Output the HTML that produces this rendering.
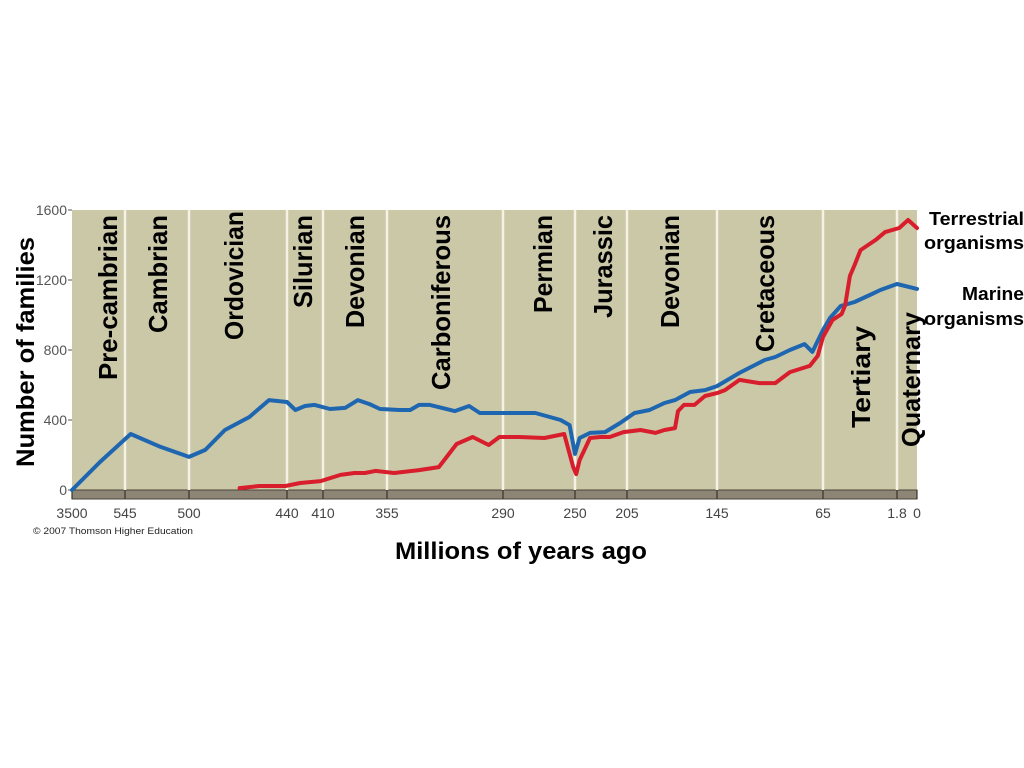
<!DOCTYPE html>
<html><head><meta charset="utf-8"><style>
html,body{margin:0;padding:0;background:#fff;}
svg{display:block;font-family:"Liberation Sans",sans-serif;}
</style></head><body>
<svg width="1024" height="768" viewBox="0 0 1024 768">
<g id="plot"></g>
</svg>
<script>
const tickAges=[3500,545,500,440,410,355,290,250,205,145,65,1.8,0];
const tickLabels=["3500","545","500","440","410","355","290","250","205","145","65","1.8","0"];
const yTicks=[0,400,800,1200,1600];
const marineAges=[3500,1939,541,520,500,490,478,463,451,440,433,425,417,404,391,380,370,361,348,342,337,331,317,309,303,290,272,258,253,250,246,237,224,211,200,190,180,173,163,153,145,128,109,101,90,79,73,65,59,50,38,25,16,1.8,0];
const marineVals=[0,160,320,246,189,229,343,417,514,503,457,480,486,463,469,514,491,463,457,457,486,486,451,480,440,440,440,400,371,206,297,326,331,383,440,457,497,514,560,571,594,669,743,760,800,834,789,914,983,1051,1074,1114,1143,1177,1149];
const terrAges=[469,457,441,429,412,395,383,374,365,351,337,326,316,307,298,292,281,267,256,251,249,246,237,228,220,208,196,186,180,173,171,167,160,153,145,139,128,113,101,90,75,69,65,57,49,46,42,38,33,20,12,1.6,0.8,0];
const terrVals=[11,23,23,40,51,86,97,97,109,97,114,131,263,303,257,303,303,297,320,131,91,171,297,303,303,331,343,326,343,354,451,486,486,537,554,571,629,611,611,674,709,766,874,971,1006,1057,1223,1286,1371,1429,1474,1497,1543,1497];
const periods=["Pre-cambrian","Cambrian","Ordovician","Silurian","Devonian","Carboniferous","Permian","Jurassic","Devonian","Cretaceous","Tertiary","Quaternary"];

const tickPx=[72,125,189,287,323,387,503,575,627,717,823,897,917];
const X0=72,X1=917,Y0=490,Y1=210;
function xScale(age){
  for(let i=0;i<tickAges.length-1;i++){
    const a=tickAges[i],b=tickAges[i+1];
    if(age<=a&&age>=b){return tickPx[i]+(a-age)/(a-b)*(tickPx[i+1]-tickPx[i]);}
  }
  return age>tickAges[0]?X0:X1;
}
function yScale(v){return Y0-(v/1600)*(Y0-Y1);}
const NS="http://www.w3.org/2000/svg";
const g=document.getElementById('plot');
function mk(tag,attrs,parent){const e=document.createElementNS(NS,tag);for(const k in attrs)e.setAttribute(k,attrs[k]);(parent||g).appendChild(e);return e;}

let e=mk('rect',{x:X0,y:Y1,width:X1-X0,height:Y0-Y1,fill:'#cbc8a8'});


e=mk('rect',{x:X0,y:Y0,width:X1-X0,height:9,fill:'#8d8575',stroke:'#4a4438','stroke-width':1});



tickAges.forEach((a,i)=>{
  const x=xScale(a);
  if(i>0&&i<tickAges.length-1){
    const l=mk('line',{x1:x,y1:Y1,x2:x,y2:Y0,stroke:'#f4f2e4','stroke-width':2.5});
    
    
  }
  const t=mk('line',{x1:x,y1:Y0,x2:x,y2:Y0+9,stroke:'#3a3428','stroke-width':1.2});
  
  
  const tx=mk('text',{x:x,y:518,'font-size':14,fill:'#444','text-anchor':'middle'});
  tx.textContent=tickLabels[i];
  
  
});
yTicks.forEach(v=>{
  const y=yScale(v);
  const t=mk('text',{x:67,y:y+5,'font-size':14,fill:'#555','text-anchor':'end'});
  t.textContent=String(v);
  
  
  const l=mk('line',{x1:68,y1:y,x2:X0,y2:y,stroke:'#555','stroke-width':1});
  
  
});

const labelPos=[[117,215,165],[167,215,118],[243,211,129],[312,215,93],[364,215,113],[450,215,175],[552,215,98],[612,215,103],[679,215,113],[774,215,137],[870,326,102],[920,312,135]];
periods.forEach((p,i)=>{
  const [bx,ty,len]=labelPos[i];
  const t=mk('text',{x:bx,y:ty,'font-size':26,'font-weight':'bold',fill:'#000','text-anchor':'end',transform:`rotate(-90 ${bx} ${ty})`,textLength:len,lengthAdjust:'spacingAndGlyphs'});
  t.textContent=p;
  
  
});

function line(ages,vals,color,name){
  const d=ages.map((a,i)=>(i?'L':'M')+xScale(a).toFixed(1)+' '+yScale(vals[i]).toFixed(1)).join(' ');
  const p=mk('path',{d:d,fill:'none',stroke:color,'stroke-width':4,'stroke-linejoin':'round','stroke-linecap':'round'});
  
  
}
line(marineAges,marineVals,'#1f66b0','marine-line');
line(terrAges,terrVals,'#d81e2c','terrestrial-line');

e=mk('text',{x:0,y:0,'font-size':25,'font-weight':'bold',fill:'#000','text-anchor':'middle',transform:'translate(34 352) rotate(-90)',textLength:230,lengthAdjust:'spacingAndGlyphs'});
e.textContent='Number of families';


e=mk('text',{x:521,y:559,'font-size':24,'font-weight':'bold',fill:'#000','text-anchor':'middle',textLength:252,lengthAdjust:'spacingAndGlyphs'});
e.textContent='Millions of years ago';


e=mk('text',{x:33,y:534,'font-size':9.5,fill:'#222',textLength:160,lengthAdjust:'spacingAndGlyphs'});
e.textContent='© 2007 Thomson Higher Education';


[['Terrestrial',225,95],['organisms',249,100],['Marine',300,62],['organisms',325,100]].forEach((s,i)=>{
  const t=mk('text',{x:1024,y:s[1],'font-size':18.5,'font-weight':'bold',fill:'#000','text-anchor':'end',textLength:s[2],lengthAdjust:'spacingAndGlyphs'});
  t.textContent=s[0];
  
  
});
</script>
</body></html>
